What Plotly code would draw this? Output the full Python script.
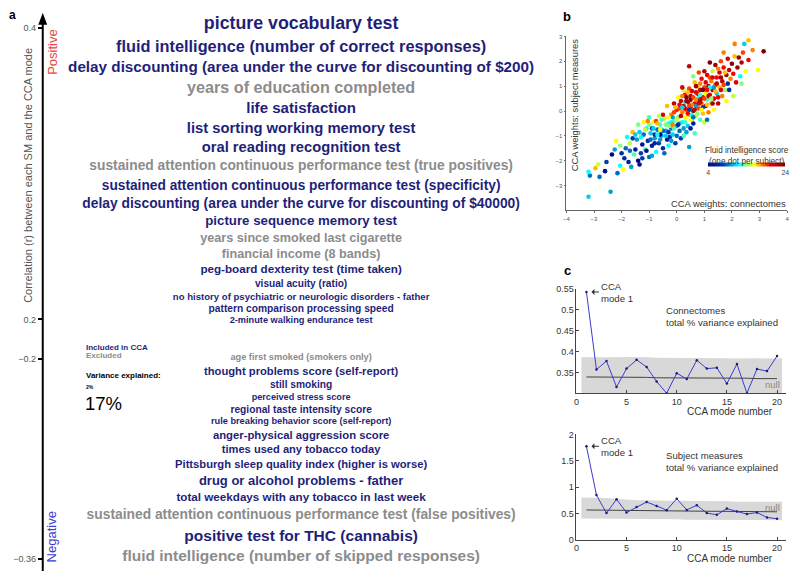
import plotly.graph_objects as go

W, H = 800, 582
def px(x): return x / W
def py(y): return 1 - y / H

FONT = "Liberation Sans, Arial, Helvetica, sans-serif"
NAVY = "#1f1f7a"
GREY = "#8c8c8c"

# ---------------- Panel a data ----------------
pos_labels = [
    "picture vocabulary test",
    "fluid intelligence (number of correct responses)",
    "delay discounting (area under the curve for discounting of $200)",
    "years of education completed",
    "life satisfaction",
    "list sorting working memory test",
    "oral reading recognition test",
    "sustained attention continuous performance test (true positives)",
    "sustained attention continuous performance test (specificity)",
    "delay discounting (area under the curve for discounting of $40000)",
    "picture sequence memory test",
    "years since smoked last cigarette",
    "financial income (8 bands)",
    "peg-board dexterity test (time taken)",
    "visual acuity (ratio)",
    "no history of psychiatric or neurologic disorders - father",
    "pattern comparison processing speed",
    "2-minute walking endurance test",
]
pos_r = [0.402, 0.386, 0.372, 0.358, 0.344, 0.330, 0.317, 0.305, 0.291,
         0.279, 0.267, 0.255, 0.244, 0.234, 0.224, 0.215, 0.207, 0.199]
pos_var = [16.2, 14.6, 13.4, 14.4, 13.2, 12.9, 12.8, 11.8, 11.7,
           11.8, 11.2, 10.5, 10.5, 9.4, 7.7, 7.1, 7.8, 6.7]
pos_incl = [1, 1, 1, 0, 1, 1, 1, 0, 1, 1, 1, 0, 0, 1, 1, 1, 1, 1]

neg_labels = [
    "age first smoked (smokers only)",
    "thought problems score (self-report)",
    "still smoking",
    "perceived stress score",
    "regional taste intensity score",
    "rule breaking behavior score (self-report)",
    "anger-physical aggression score",
    "times used any tobacco today",
    "Pittsburgh sleep quality index (higher is worse)",
    "drug or alcohol problems - father",
    "total weekdays with any tobacco in last week",
    "sustained attention continuous performance test (false positives)",
    "positive test for THC (cannabis)",
    "fluid intelligence (number of skipped responses)",
]
neg_r = [-0.199, -0.211, -0.221, -0.231, -0.241, -0.250, -0.262,
         -0.273, -0.285, -0.298, -0.311, -0.325, -0.342, -0.358]
neg_var = [6.7, 8.9, 7.8, 6.6, 7.8, 6.7, 9.0, 8.8, 8.9, 10.9, 9.4, 11.8, 13.7, 13.7]
neg_incl = [0, 1, 1, 1, 1, 1, 1, 1, 1, 1, 1, 0, 1, 0]

pos_ticks = [0.2, 0.4]
neg_ticks = [-0.36, -0.2]

def var_to_size(v):
    return 5 + (v - 2) * 0.9

# ---------------- Panel b data (CCA weights scatter) ----------------
sx = [-3.2, -2.4, -3.15, -3.2, -2.95, -2.85, -2.6, -2.8, -2.55, -2.35,
      -2.15, -2.05, -1.95, -1.9, -1.75, -1.65, -1.4, -1.35, -1.55, -2.25,
      -2.05, -2.2, -1.85, -1.8, -1.7, -1.6, -1.5, -1.45, -1.4, -1.3,
      -1.25, -1.2, -1.15, -1.1, -1.05, -1.0, -0.95, -0.9, -0.85, -0.8,
      -0.75, -0.7, -0.65, -0.6, -0.55, -0.5, -0.45, -0.45, -0.4, -0.35,
      -0.3, -0.25, -0.2, -0.2, -0.15, -0.1, -0.05, 0.0, 0.0, 0.05,
      -0.6, -0.75, -1.0, -1.35, -0.3, -0.9, -0.5, -0.35, -0.1, -0.65,
      -1.2, -1.6, -1.1, -0.25, -0.15, -0.55, -0.8,
      0.1, 0.15, 0.2, 0.2, 0.25, 0.3, 0.3, 0.35, 0.4, 0.4,
      0.45, 0.45, 0.45, 0.5, 0.5, 0.55, 0.55, 0.6, 0.6, 0.65,
      0.65, 0.7, 0.7, 0.75, 0.75, 0.8, 0.8, 0.85, 0.85, 0.9,
      0.9, 0.95, 0.95, 1.0, 1.0, 1.05, 1.05, 1.1, 1.1, 1.15,
      1.15, 1.2, 1.2, 1.25, 1.25, 1.3, 1.3, 1.35, 1.35, 1.4,
      1.4, 1.45, 1.45, 0.25, 0.35, 0.45, 0.15, 0.1, 0.55, 0.85,
      0.3, 1.0, 0.6, 0.8, 0.05, 0.65, 1.1, 0.2, 0.95, 0.35,
      0.7, 1.2, 0.5,
      1.5, 1.55, 1.55, 1.6, 1.65, 1.65, 1.7, 1.75, 1.8, 1.8,
      1.85, 1.85, 1.9, 1.9, 1.95, 2.0, 2.05, 2.05, 2.1, 2.1,
      2.15, 2.2, 2.25, 2.3, 2.35, 2.4, 2.45, 2.5, 2.6, 2.75,
      2.95, 3.15, 2.6, 1.7, 2.35,
      -1.0, -0.95, -0.85, -0.8, -0.7, -0.7, -0.6, -0.55, -0.5, -0.4,
      -0.4, -0.3, -0.3, -0.2, -0.2, -0.1, -0.1, 0.0, 0.0, 0.1,
      0.1, 0.15, 0.2, 0.25, 0.3, 0.3, 0.35, 0.4, 0.4, 0.45,
      0.5, 0.5, 0.55, 0.55, 0.6, 0.65, 0.7, 0.7, 0.75, 0.75,
      0.8, 0.85, 0.9, 0.9, 0.95, 1.0, 1.05, 1.1, 1.1, 1.15,
      1.2, 1.25, 1.3, 1.3, 1.4, 1.45, 1.5, 1.5, 1.6, 1.6,
      1.7, 1.75, -1.3, -1.15, -1.5, -1.7, -1.25, -0.9, -2.0, -1.05,
      0.25, 0.6, 0.2, -0.05, 0.85, 1.35, 0.05, -0.6, -0.15, 0.45]
sy = [-3.45, -3.25, -2.6, -2.45, -2.3, -2.15, -2.42, -2.65, -2.05, -1.75,
      -2.5, -2.2, -2.35, -1.9, -2.05, -2.25, -2.0, -2.15, -1.75, -1.55,
      -1.4, -1.2, -1.5, -1.05, -1.3, -0.85, -1.55, -1.15, -0.55, -1.7,
      -1.35, -0.95, -1.55, -0.7, -1.2, -1.85, -0.9, -1.4, -0.45, -1.1,
      -1.65, -0.75, -1.3, -0.55, -1.0, -1.5, -0.3, -1.7, -0.8, -1.15,
      -0.5, -1.05, -0.15, -0.7, -0.95, -0.4, -1.3, -0.6, 0.05, -0.25,
      -0.95, -0.4, -0.25, -0.85, -1.4, -0.7, -0.15, 0.2, 0.3, -0.2,
      -0.45, -1.1, -1.6, -0.6, -0.25, -0.75, -0.95,
      -0.8, 0.4, -0.05, -0.45, 0.2, -0.25, 0.65, 0.05, -0.6, 0.35,
      -0.15, 0.9, 1.8, 0.15, -0.7, 0.55, -0.35, 0.0, -0.5, 0.3,
      1.15, 0.75, -0.2, 0.45, 1.0, 0.1, 0.6, -0.35, 0.85, 0.3,
      1.3, 0.55, -0.1, -0.45, 0.95, 0.2, 0.7, 1.45, 0.45, 1.0,
      -0.05, 0.65, 1.95, 0.3, 1.2, 0.85, 1.6, 0.5, 0.05, 1.05,
      1.85, 0.7, 1.35, 0.85, -0.85, -1.45, -1.1, 0.1, 0.25, 0.35,
      0.35, 1.6, 1.4, 1.55, 0.55, -0.9, -0.35, 0.95, 0.15, 0.55,
      0.2, 0.95, 0.6,
      0.3, 0.95, 1.55, 2.0, 0.6, 1.2, 1.75, 0.85, 1.45, 0.4,
      1.1, 2.1, 0.85, 1.65, 1.3, 1.9, 0.6, 1.5, 2.2, 2.7,
      1.15, 1.75, 2.15, 1.4, 1.95, 2.35, 2.7, 1.6, 2.05, 2.45,
      1.65, 2.4, 2.85, 2.35, 1.1,
      -0.55, -1.15, -0.7, -1.3, -0.95, -0.5, -1.15, -0.35, -0.8, -1.0,
      -0.55, -0.85, -0.25, -0.45, -1.2, -0.7, -0.05, -0.35, -1.0, -0.5,
      0.25, -0.2, 0.6, -0.7, 0.1, -0.45, 0.4, -0.1, 0.75, 0.2,
      -0.35, 0.45, 0.8, -0.15, 0.55, 0.05, 0.45, 1.0, -0.1, 0.7,
      0.3, 1.1, 0.05, 0.5, 0.85, 0.5, 1.15, 0.25, 0.85, 0.6,
      1.35, 0.5, 0.3, 1.35, 0.8, 1.1, 0.55, 1.7, 0.85, 1.35,
      1.05, 1.55, -1.05, -0.75, -0.95, -1.6, -1.9, -1.8, -1.7, -0.4,
      -1.0, -0.25, 0.15, 0.15, 0.65, 0.95, -0.55, -0.75, -0.55, 0.05]
sc = [11, 10, 9, 12, 17, 15, 5, 9, 8, 4,
      9, 12, 16, 7, 6, 10, 4, 5, 13, 10,
      14, 16, 9, 12, 15, 17, 6, 10, 14, 8,
      5, 9, 13, 12, 7, 9, 11, 6, 16, 10,
      12, 9, 8, 13, 11, 7, 15, 9, 10, 6,
      12, 7, 18, 9, 11, 13, 8, 10, 20, 14,
      4, 19, 13, 11, 12, 8, 21, 17, 22, 15,
      16, 8, 5, 14, 10, 12, 7,
      9, 21, 18, 12, 23, 16, 20, 19, 11, 22,
      17, 19, 22, 21, 6, 18, 14, 23, 6, 20,
      17, 21, 15, 24, 16, 19, 12, 13, 22, 18,
      20, 21, 17, 15, 19, 22, 16, 21, 13, 23,
      18, 20, 24, 17, 18, 22, 15, 21, 16, 19,
      23, 11, 20, 15, 10, 10, 8, 19, 18, 23,
      12, 22, 14, 19, 16, 13, 9, 21, 8, 24,
      10, 12, 22,
      22, 17, 21, 19, 18, 22, 20, 14, 23, 16,
      7, 21, 7, 22, 18, 24, 15, 20, 17, 18,
      21, 23, 23, 12, 22, 19, 11, 16, 20, 18,
      16, 24, 17, 18, 14,
      14, 9, 11, 6, 12, 17, 10, 13, 9, 11,
      14, 8, 16, 12, 10, 13, 19, 15, 9, 11,
      20, 22, 18, 10, 21, 13, 23, 20, 17, 19,
      16, 24, 21, 12, 19, 22, 18, 23, 14, 20,
      21, 18, 16, 22, 24, 19, 21, 17, 20, 22,
      19, 14, 23, 21, 17, 22, 20, 18, 21, 23,
      19, 17, 12, 15, 11, 9, 8, 10, 7, 18,
      13, 9, 11, 17, 13, 10, 7, 16, 18, 8]

# ---------------- Panel c data ----------------
modes = list(range(1, 21))
conn_var = [0.543, 0.357, 0.377, 0.315, 0.359, 0.380, 0.363, 0.328, 0.300, 0.348,
            0.334, 0.379, 0.359, 0.361, 0.323, 0.370, 0.300, 0.358, 0.353, 0.389]
conn_null_hi = [0.386, 0.385, 0.386, 0.386, 0.387, 0.387, 0.386, 0.385, 0.385, 0.384,
                0.384, 0.385, 0.384, 0.384, 0.384, 0.383, 0.384, 0.384, 0.383, 0.384]
conn_null_lo = [0.29, 0.29, 0.29, 0.29, 0.29, 0.29, 0.29, 0.29, 0.29, 0.29,
                0.29, 0.29, 0.29, 0.29, 0.29, 0.29, 0.29, 0.29, 0.29, 0.29]
conn_null_mean = [0.339, 0.339, 0.339, 0.338, 0.338, 0.338, 0.338, 0.337, 0.337, 0.337,
                  0.337, 0.337, 0.336, 0.336, 0.336, 0.336, 0.336, 0.335, 0.335, 0.335]

subj_var = [1.776, 0.847, 0.505, 0.766, 0.516, 0.622, 0.716, 0.641, 0.561, 0.778,
            0.566, 0.654, 0.505, 0.473, 0.591, 0.535, 0.486, 0.516, 0.422, 0.398]
subj_null_hi = [0.80, 0.80, 0.79, 0.78, 0.76, 0.75, 0.75, 0.74, 0.74, 0.74,
                0.74, 0.73, 0.73, 0.73, 0.73, 0.72, 0.72, 0.72, 0.72, 0.72]
subj_null_lo = [0.40, 0.40, 0.40, 0.40, 0.39, 0.39, 0.39, 0.39, 0.39, 0.39,
                0.38, 0.38, 0.38, 0.38, 0.38, 0.38, 0.38, 0.37, 0.37, 0.37]
subj_null_mean = [0.565, 0.562, 0.558, 0.555, 0.552, 0.550, 0.548, 0.547, 0.546, 0.545,
                  0.544, 0.542, 0.540, 0.539, 0.538, 0.536, 0.535, 0.533, 0.532, 0.530]

# ---------------- Figure ----------------
fig = go.Figure()

def text_trace(labels, rs, vars_, incl, xa, ya):
    return go.Scatter(
        x=[0.5] * len(labels), y=rs, text=labels, mode="text",
        textposition="middle center", cliponaxis=False, hoverinfo="skip",
        textfont=dict(family=FONT, weight="bold",
                      size=[var_to_size(v) for v in vars_],
                      color=[NAVY if i else GREY for i in incl]),
        xaxis=xa, yaxis=ya)

fig.add_trace(text_trace(pos_labels, pos_r, pos_var, pos_incl, "x", "y"))
fig.add_trace(text_trace(neg_labels, neg_r, neg_var, neg_incl, "x2", "y2"))

fig.add_trace(go.Scatter(
    x=sx, y=sy, mode="markers", xaxis="x3", yaxis="y3", hoverinfo="skip",
    marker=dict(size=4.6, color=sc, colorscale="Jet", cmin=4, cmax=24,
                line=dict(width=0), showscale=True,
                colorbar=dict(orientation="h", x=px(748.5), xanchor="center",
                              y=py(166), yanchor="middle", len=77, lenmode="pixels",
                              thickness=4, thicknessmode="pixels", tickvals=[4, 24],
                              ticks="", outlinewidth=0, xpad=0, ypad=0,
                              tickfont=dict(family=FONT, size=7, color="#444")))))

def band(hi, lo, xa, ya):
    bx = [0.5] + modes + [20.5]
    hi_e = [hi[0]] + hi + [hi[-1]]
    lo_e = [lo[0]] + lo + [lo[-1]]
    return go.Scatter(x=bx + bx[::-1], y=hi_e + lo_e[::-1], fill="toself",
                      fillcolor="#d8d8d8", line=dict(width=0), mode="lines",
                      hoverinfo="skip", xaxis=xa, yaxis=ya)

for hi, lo, mean, vals, xa, ya in [
        (conn_null_hi, conn_null_lo, conn_null_mean, conn_var, "x4", "y4"),
        (subj_null_hi, subj_null_lo, subj_null_mean, subj_var, "x5", "y5")]:
    fig.add_trace(band(hi, lo, xa, ya))
    fig.add_trace(go.Scatter(x=modes, y=mean, mode="lines", xaxis=xa, yaxis=ya,
                             line=dict(color="#444", width=1), hoverinfo="skip"))
    fig.add_trace(go.Scatter(x=modes, y=vals, mode="lines+markers", xaxis=xa, yaxis=ya,
                             line=dict(color="#3b3bd0", width=1),
                             marker=dict(size=2.5, color="#1a1a80"), hoverinfo="skip"))

# panel a axis geometry: pixel rows of the tick values, ranges padded slightly
def seg_domain(v_lo, v_hi, p_lo, p_hi, r_lo, r_hi):
    k = (p_lo - p_hi) / (v_hi - v_lo)
    y_lo = p_lo + (v_lo - r_lo) * k
    y_hi = p_hi - (r_hi - v_hi) * k
    return [py(y_lo), py(y_hi)]

top_range = [0.195, 0.405]
bot_range = [-0.362, -0.195]
top_dom = seg_domain(0.2, 0.4, 320, 23, *top_range)
bot_dom = seg_domain(-0.36, -0.2, 564, 360, *bot_range)

tickfont_a = dict(family=FONT, size=9, color="#555")
cfont = dict(family=FONT, size=9, color="#333")
fig.update_layout(
    width=W, height=H, margin=dict(l=0, r=0, t=0, b=0),
    paper_bgcolor="white", plot_bgcolor="white", showlegend=False,
    font=dict(family=FONT),
    xaxis=dict(domain=[px(40), px(560)], range=[0, 1], visible=False, anchor="y"),
    yaxis=dict(domain=top_dom, range=top_range, anchor="x",
               tickvals=pos_ticks, ticktext=["0.2", "0.4"], ticks="outside",
               ticklen=4, tickwidth=1.5, tickcolor="black", showline=False,
               showgrid=False, zeroline=False, tickfont=tickfont_a),
    xaxis2=dict(domain=[px(40), px(560)], range=[0, 1], visible=False, anchor="y2"),
    yaxis2=dict(domain=bot_dom, range=bot_range, anchor="x2",
                tickvals=neg_ticks, ticktext=["\u22120.36", "\u22120.2"], ticks="outside",
                ticklen=4, tickwidth=1.5, tickcolor="black", showline=False,
                showgrid=False, zeroline=False, tickfont=tickfont_a),
    xaxis3=dict(domain=[px(567), px(789)], range=[-4, 4], anchor="y3",
                tickvals=[-4, -3, -2, -1, 0, 1, 2, 3, 4], ticks="outside", ticklen=2,
                showline=True, linecolor="#666", linewidth=0.8, tickcolor="#666",
                showgrid=False, zeroline=False,
                tickfont=dict(family=FONT, size=6, color="#555")),
    yaxis3=dict(domain=[py(209), py(32)], range=[-4, 3], anchor="x3",
                tickvals=[-3, -2, -1, 0, 1, 2, 3], ticks="outside", ticklen=2,
                showline=True, linecolor="#666", linewidth=0.8, tickcolor="#666",
                showgrid=False, zeroline=False,
                tickfont=dict(family=FONT, size=6, color="#555")),
    xaxis4=dict(domain=[px(577), px(788)], range=[0, 20.9], anchor="y4",
                tickvals=[0, 5, 10, 15, 20], ticks="inside", ticklen=3,
                showline=True, linecolor="#444", linewidth=0.8, tickcolor="#444",
                showgrid=False, zeroline=False, tickfont=cfont),
    yaxis4=dict(domain=[py(395), py(289)], range=[0.3, 0.55], anchor="x4",
                tickvals=[0.35, 0.4, 0.45, 0.5, 0.55],
                ticktext=["0.35", "0.4", "0.45", "0.5", "0.55"], ticks="inside", ticklen=3,
                showline=True, linecolor="#444", linewidth=0.8, tickcolor="#444",
                showgrid=False, zeroline=False, tickfont=cfont),
    xaxis5=dict(domain=[px(577), px(788)], range=[0, 20.9], anchor="y5",
                tickvals=[0, 5, 10, 15, 20], ticks="inside", ticklen=3,
                showline=True, linecolor="#444", linewidth=0.8, tickcolor="#444",
                showgrid=False, zeroline=False, tickfont=cfont),
    yaxis5=dict(domain=[py(544), py(437)], range=[0, 2], anchor="x5",
                tickvals=[0, 0.5, 1, 1.5, 2], ticktext=["0", "0.5", "1", "1.5", "2"],
                ticks="inside", ticklen=3,
                showline=True, linecolor="#444", linewidth=0.8, tickcolor="#444",
                showgrid=False, zeroline=False, tickfont=cfont),
)

# axis line + arrow of panel a
fig.add_shape(type="line", xref="paper", yref="paper", x0=px(40), x1=px(40),
              y0=py(576), y1=py(18), line=dict(color="black", width=2))
fig.add_shape(type="path", xref="paper", yref="paper",
              path=f"M {px(40)} {py(8)} L {px(35.5)} {py(20)} L {px(44.5)} {py(20)} Z",
              fillcolor="black", line=dict(color="black", width=0))

ann = []
def A(text, x, y, size, color="#222", xanchor="center", yanchor="middle",
      angle=0, bold=False, align="center"):
    ann.append(dict(text=text, x=px(x), y=py(y), xref="paper", yref="paper",
                    showarrow=False, xanchor=xanchor, yanchor=yanchor, textangle=angle,
                    align=align,
                    font=dict(family=FONT, size=size, color=color,
                              weight="bold" if bold else "normal"),
                    borderpad=0))

A("a", 10, 10, 12, "black", bold=True)
A("b", 568, 12, 13, "black", bold=True)
A("c", 568, 270, 13, "black", bold=True)
A("Correlation (r) between each SM and the CCA mode", 25, 173, 11, "#555", angle=-90)
A("Positive", 49, 48, 13, "#e8483c", angle=-90)
A("Negative", 49, 541, 13, "#3c3cd2", angle=-90)

A("Included in CCA", 83, 348, 8, NAVY, xanchor="left", bold=True)
A("Excluded", 83, 357, 8, GREY, xanchor="left", bold=True)
A("Variance explained:", 83, 377, 8, "black", xanchor="left", bold=True)
A("2%", 83, 389, var_to_size(2), "black", xanchor="left", bold=True)
A("17%", 82, 405, var_to_size(17), "black", xanchor="left")

# panel b texts
A("CCA weights: subject measures", 576, 33, 9.4, "#333", yanchor="top", angle=-90)
A("CCA weights: connectomes", 789, 202, 9.4, "#333", xanchor="right")
A("Fluid intelligence score<br>(one dot per subject)", 748.5, 153.5, 8.2, "#333")

# panel c texts
for (ycm, t1, ty, ynull) in [
        (293, "Connectomes", 316.5, 386),
        (449.5, "Subject measures", 464.5, 511)]:
    A("CCA<br>mode 1", 601, ycm, 9.6, "#333", xanchor="left", align="left")
    A(t1 + "<br>total % variance explained", 666, ty, 9.6, "#333",
      xanchor="left", align="left")
    A("null", 783, ynull, 9.5, "#888", xanchor="right")

A("CCA mode number", 776, 414, 10, "#333", xanchor="right")
A("CCA mode number", 776, 563, 10, "#333", xanchor="right")

# arrows to mode 1
for xa, ya, yv in [("x4", "y4", conn_var[0]), ("x5", "y5", subj_var[0])]:
    ann.append(dict(x=modes[0], y=yv, xref=xa, yref=ya, text="", showarrow=True,
                    ax=14, ay=0, arrowhead=1, arrowsize=1, arrowwidth=1,
                    arrowcolor="#333", standoff=5))

fig.update_layout(annotations=ann)
fig.write_html("out.html", config={"displayModeBar": False},
               post_script="document.body.style.margin='0px';")
